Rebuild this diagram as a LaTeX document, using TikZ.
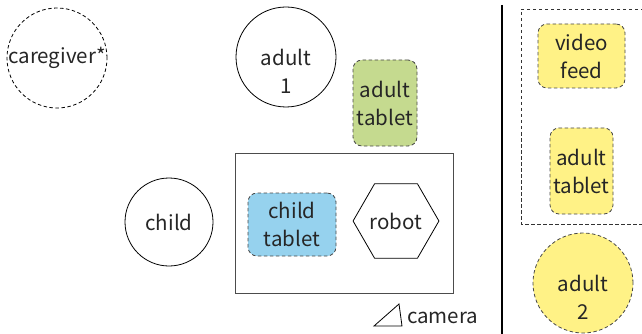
\documentclass[tikz,border=0pt]{standalone}
\usepackage{fontspec}
\setmainfont{Noto Sans CJK JP}
\usetikzlibrary{shapes.geometric}
\definecolor{tabgreen}{RGB}{197,218,143}
\definecolor{tabblue}{RGB}{150,210,238}
\definecolor{tabyellow}{RGB}{255,242,134}
\definecolor{dashgray}{RGB}{70,70,70}
\begin{document}
\begin{tikzpicture}[x=1pt,y=-1pt,
  every node/.style={font=\fontsize{20.5}{28}\selectfont, align=center, inner sep=0pt, text=black!85},
  every label/.style={font=\fontsize{20.5}{28}\selectfont, align=center, inner sep=0pt, text=black!85},
  thin line/.style={line width=0.8pt},
  dashline/.style={line width=0.8pt, dash pattern=on 3.5pt off 2.5pt},
  person/.style={circle, draw, thin line, minimum size=100pt},
  tablet/.style={rectangle, rounded corners=9pt, draw=dashgray, dashline}]
\useasboundingbox (0,0) rectangle (642,334);

% people
\node[person, dashline] (caregiver) at (57,58) {caregiver*};
\node[person, label={[yshift=-14pt]center:adult\\1}] (adult1) at (286,57) {};
\node[person, minimum size=88pt] (child) at (169,222) {child};
\node[person, dashline, draw=dashgray, fill=tabyellow,
      label={[yshift=-14pt]center:adult\\2}] (adult2) at (583,283) {};

% tablets
\node[tablet, fill=tabgreen, minimum width=64pt, minimum height=86pt] (atablet) at (385,103) {adult\\tablet};
\node[tablet, fill=tabblue, minimum width=88pt, minimum height=63pt] (ctablet) at (292,224.5) {child\\tablet};
\node[tablet, fill=tabyellow, minimum width=87pt, minimum height=64pt] (video) at (581.5,56) {video\\feed};
\node[tablet, fill=tabyellow, minimum width=63pt, minimum height=86pt] (rtablet) at (581.5,171) {adult\\tablet};

% table area with the robot
\node[rectangle, draw=black!70, thin line, minimum width=218pt, minimum height=140pt] (stage) at (344,223) {};
\node[regular polygon, regular polygon sides=6, draw, thin line, minimum size=82pt] (robot) at (396,221) {robot};

% camera
\draw[thin line] (399,304) -- (374,326) -- (402,326) -- cycle;
\node[anchor=west] (camera) at (407,318) {camera};

% remote side
\draw[line width=2.2pt] (502,5) -- (502,334);
\draw[dashline, draw=black!80] (650,9) -- (521,9) -- (521,224) -- (650,224);
\end{tikzpicture}
\end{document}
